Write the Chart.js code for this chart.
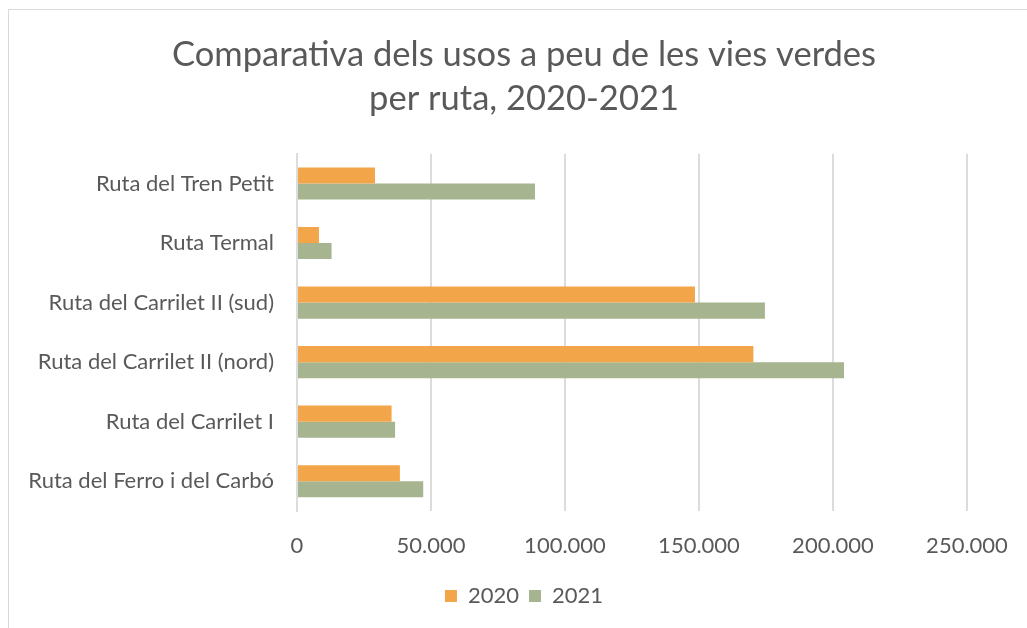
<!DOCTYPE html>
<html>
<head>
<meta charset="utf-8">
<script src="https://cdn.jsdelivr.net/npm/chart.js@4.4.1/dist/chart.umd.min.js"></script>
<style>
  html, body { margin: 0; padding: 0; background: #fff; overflow: hidden; }
  #wrap {
    position: absolute; left: 8px; top: 9px;
    width: 1032px; height: 640px;
    border: 1px solid #d9d9d9; box-sizing: border-box;
  }
  canvas { display: block; }
</style>
</head>
<body>
<div id="wrap"><canvas id="chart" width="1030" height="638"></canvas></div>
<script>
const rutes = [
    'Ruta del Tren Petit',
    'Ruta Termal',
    'Ruta del Carrilet II (sud)',
    'Ruta del Carrilet II (nord)',
    'Ruta del Carrilet I',
    'Ruta del Ferro i del Carbó'
];
const usos2020 = [29100, 8200, 148500, 170300, 35300, 38400];
const usos2021 = [88800, 12900, 174600, 204100, 36600, 47100];
const xTicks = [0, 50000, 100000, 150000, 200000, 250000];

const grey = '#595959';
const fontFam = 'Lato, "Open Sans", sans-serif';

// 50000 -> "50.000"
function fmt(v) {
    return String(v).replace(/\B(?=(\d{3})+(?!\d))/g, '.');
}

const ctx = document.getElementById('chart').getContext('2d');

new Chart(ctx, {
    type: 'bar',
    data: {
        labels: rutes,
        datasets: [{
            label: '2020',
            data: usos2020,
            backgroundColor: '#F3A54A',
            barPercentage: 1,
            categoryPercentage: 0.54
        }, {
            label: '2021',
            data: usos2021,
            backgroundColor: '#A6B590',
            barPercentage: 1,
            categoryPercentage: 0.54
        }]
    },
    options: {
        indexAxis: 'y',
        responsive: false,
        animation: false,
        layout: { padding: { left: 0, right: 0, top: 0, bottom: 31 } },
        plugins: {
            title: {
                display: true,
                text: ['Comparativa dels usos a peu de les vies verdes', 'per ruta, 2020-2021'],
                color: grey,
                font: { family: fontFam, size: 34.5, weight: 'normal', lineHeight: 1.3 },
                padding: { top: 22, bottom: 32 }
            },
            legend: {
                position: 'bottom',
                labels: {
                    color: grey,
                    font: { family: fontFam, size: 22 },
                    boxWidth: 12,
                    boxHeight: 12,
                    padding: 10
                }
            },
            tooltip: { enabled: false }
        },
        scales: {
            x: {
                min: 0,
                max: 250000,
                afterBuildTicks: (scale) => { scale.ticks = xTicks.map(v => ({ value: v })); },
                afterFit: (scale) => {
                    scale.height = 64;
                    scale.paddingRight = 72;   // keeps 250.000 gridline where Excel puts it
                },
                grid: { color: '#dcdcdc', lineWidth: 2, drawTicks: false },
                border: { display: false },
                ticks: {
                    color: grey,
                    font: { family: fontFam, size: 22 },
                    padding: 22,
                    callback: (v) => fmt(v)
                }
            },
            y: {
                afterFit: (scale) => { scale.width = 288; },
                grid: { display: false, drawTicks: false },
                border: { display: true, color: '#dcdcdc', width: 2 },
                ticks: {
                    color: grey,
                    font: { family: fontFam, size: 22 },
                    padding: 23
                }
            }
        }
    }
});
</script>
</body>
</html>
